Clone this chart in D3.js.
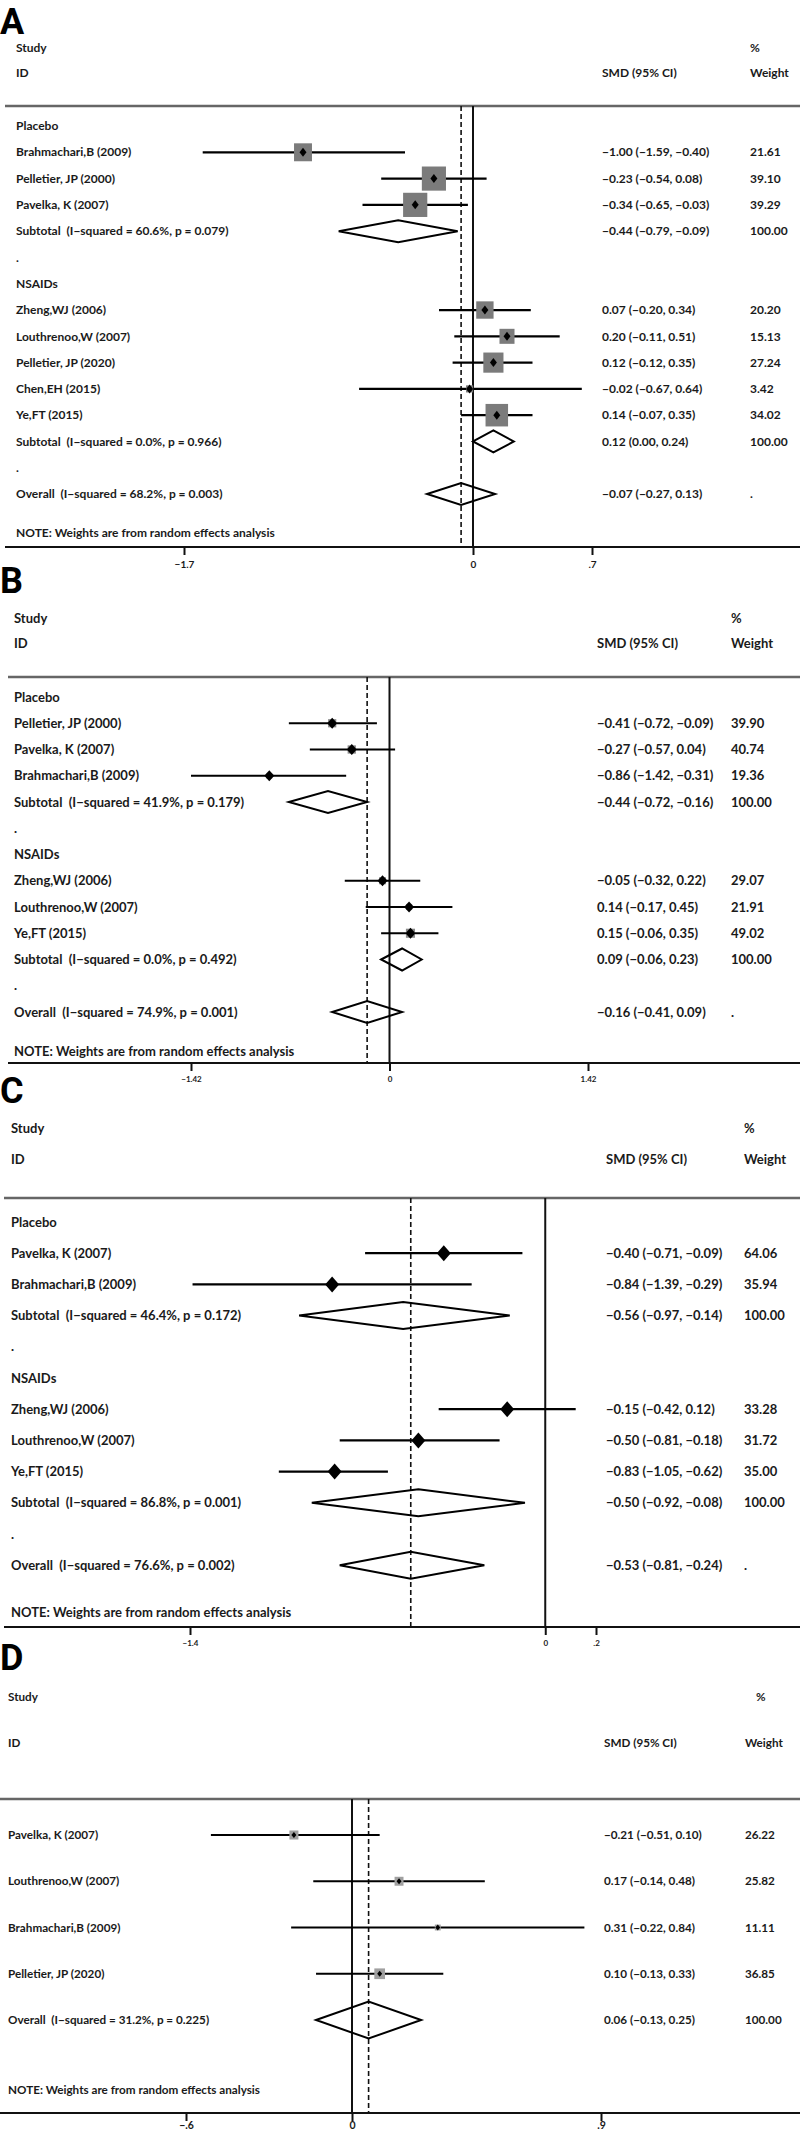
<!DOCTYPE html>
<html>
<head>
<meta charset="utf-8">
<script src="https://cdn.jsdelivr.net/npm/d3@7/dist/d3.min.js"></script>
<style>
  html, body { margin: 0; padding: 0; background: #fff; }
  svg text { font-family: "Lato", "Liberation Sans", sans-serif; font-weight: 700; fill: #1a1a1a; white-space: pre; }
</style>
</head>
<body>
<svg id="chart" width="800" height="2133"></svg>
<script>
// ---------------- DATA ----------------
// Panel A
const aLabels = ["Placebo","Brahmachari,B (2009)","Pelletier, JP (2000)","Pavelka, K (2007)","Subtotal  (I\u2212squared = 60.6%, p = 0.079)",".","NSAIDs","Zheng,WJ (2006)","Louthrenoo,W (2007)","Pelletier, JP (2020)","Chen,EH (2015)","Ye,FT (2015)","Subtotal  (I\u2212squared = 0.0%, p = 0.966)",".","Overall  (I\u2212squared = 68.2%, p = 0.003)"];
const aEst = [null,-1.00,-0.23,-0.34,-0.44,null,null,0.07,0.20,0.12,-0.02,0.14,0.12,null,-0.07];
const aLo  = [null,-1.59,-0.54,-0.65,-0.79,null,null,-0.20,-0.11,-0.12,-0.67,-0.07,0.00,null,-0.27];
const aHi  = [null,-0.40,0.08,-0.03,-0.09,null,null,0.34,0.51,0.35,0.64,0.35,0.24,null,0.13];
const aWt  = [null,21.61,39.10,39.29,100.00,null,null,20.20,15.13,27.24,3.42,34.02,100.00,null,null];
const aTicks = [-1.7,0,0.7];
const aTickLabels = ["\u22121.7","0",".7"];

// Panel B
const bLabels = ["Placebo","Pelletier, JP (2000)","Pavelka, K (2007)","Brahmachari,B (2009)","Subtotal  (I\u2212squared = 41.9%, p = 0.179)",".","NSAIDs","Zheng,WJ (2006)","Louthrenoo,W (2007)","Ye,FT (2015)","Subtotal  (I\u2212squared = 0.0%, p = 0.492)",".","Overall  (I\u2212squared = 74.9%, p = 0.001)"];
const bEst = [null,-0.41,-0.27,-0.86,-0.44,null,null,-0.05,0.14,0.15,0.09,null,-0.16];
const bLo  = [null,-0.72,-0.57,-1.42,-0.72,null,null,-0.32,-0.17,-0.06,-0.06,null,-0.41];
const bHi  = [null,-0.09,0.04,-0.31,-0.16,null,null,0.22,0.45,0.35,0.23,null,0.09];
const bWt  = [null,39.90,40.74,19.36,100.00,null,null,29.07,21.91,49.02,100.00,null,null];
const bTicks = [-1.42,0,1.42];
const bTickLabels = ["\u22121.42","0","1.42"];

// Panel C
const cLabels = ["Placebo","Pavelka, K (2007)","Brahmachari,B (2009)","Subtotal  (I\u2212squared = 46.4%, p = 0.172)",".","NSAIDs","Zheng,WJ (2006)","Louthrenoo,W (2007)","Ye,FT (2015)","Subtotal  (I\u2212squared = 86.8%, p = 0.001)",".","Overall  (I\u2212squared = 76.6%, p = 0.002)"];
const cEst = [null,-0.40,-0.84,-0.56,null,null,-0.15,-0.50,-0.83,-0.50,null,-0.53];
const cLo  = [null,-0.71,-1.39,-0.97,null,null,-0.42,-0.81,-1.05,-0.92,null,-0.81];
const cHi  = [null,-0.09,-0.29,-0.14,null,null,0.12,-0.18,-0.62,-0.08,null,-0.24];
const cWt  = [null,64.06,35.94,100.00,null,null,33.28,31.72,35.00,100.00,null,null];
const cTicks = [-1.4,0,0.2];
const cTickLabels = ["\u22121.4","0",".2"];

// Panel D
const dLabels = ["Pavelka, K (2007)","Louthrenoo,W (2007)","Brahmachari,B (2009)","Pelletier, JP (2020)","Overall  (I\u2212squared = 31.2%, p = 0.225)"];
const dEst = [-0.21,0.17,0.31,0.10,0.06];
const dLo  = [-0.51,-0.14,-0.22,-0.13,-0.13];
const dHi  = [0.10,0.48,0.84,0.33,0.25];
const dWt  = [26.22,25.82,11.11,36.85,100.00];
const dTicks = [-0.6,0,0.9];
const dTickLabels = ["\u2212.6","0",".9"];

const panelLetters = ["A","B","C","D"];
const headStudy = "Study", headID = "ID", headSMD = "SMD (95% CI)", headPct = "%", headWeight = "Weight";
const noteText = "NOTE: Weights are from random effects analysis";

// ---------------- LAYOUT ----------------
const layouts = [
  {letter:panelLetters[0], labels:aLabels, est:aEst, lo:aLo, hi:aHi, wt:aWt, ticks:aTicks, tickLabels:aTickLabels,
   letterY:34, studyY:48, idY:73, lineY:106, row0:126, rowStep:26.29, noteY:533, axisY:547, tickLabelY:564,
   xLabel:16, xSmd:602, xWt:750, xPct:750, fs:12, tickFs:10, range:[184,592], lineX0:5,
   box:"#7b7b7b", boxK:3.86, marker:[3.5,4.5], diamondH:11},
  {letter:panelLetters[1], labels:bLabels, est:bEst, lo:bLo, hi:bHi, wt:bWt, ticks:bTicks, tickLabels:bTickLabels,
   letterY:593, studyY:618, idY:643, lineY:677, row0:697, rowStep:26.25, noteY:1051, axisY:1063, tickLabelY:1079,
   xLabel:14, xSmd:597, xWt:731, xPct:731, fs:13, tickFs:8, range:[191,588], lineX0:8,
   box:"#8a8a8a", boxK:1.3, marker:[5,5.5], diamondH:11},
  {letter:panelLetters[2], labels:cLabels, est:cEst, lo:cLo, hi:cHi, wt:cWt, ticks:cTicks, tickLabels:cTickLabels,
   letterY:1103, studyY:1128, idY:1159, lineY:1198, row0:1222, rowStep:31.2, noteY:1612, axisY:1627, tickLabelY:1643,
   xLabel:11, xSmd:606, xWt:744, xPct:744, fs:13, tickFs:8, range:[190,596], lineX0:4,
   box:null, boxK:0, marker:[7,8], diamondH:13.5},
  {letter:panelLetters[3], labels:dLabels, est:dEst, lo:dLo, hi:dHi, wt:dWt, ticks:dTicks, tickLabels:dTickLabels,
   letterY:1670, studyY:1697, idY:1743, lineY:1799, row0:1835, rowStep:46.25, noteY:2090, axisY:2113, tickLabelY:2125,
   xLabel:8, xSmd:604, xWt:745, xPct:756, fs:11.7, tickFs:10.5, range:[186,601], lineX0:0,
   box:"#a0a0a0", boxK:1.76, marker:[2.5,3], diamondH:18.5}
];

const svg = d3.select("#chart");
const fmt = d3.format(".2f");

layouts.forEach(L => {
  const g = svg.append("g");
  const x = d3.scaleLinear().domain([L.ticks[0], L.ticks[L.ticks.length-1]]).range(L.range);
  const y = d3.scaleLinear().domain([0, 1]).range([L.row0, L.row0 + L.rowStep]);
  const overallEst = L.est[L.est.length-1];

  // panel letter
  g.append("text").attr("x", 0).attr("y", L.letterY)
    .style("font-family", "Roboto, 'Liberation Sans', sans-serif")
    .style("font-size", "36px").style("font-weight", 700).style("fill", "#000")
    .text(L.letter);

  // headers
  const hdr = (txt, xx, yy) => g.append("text").attr("x", xx).attr("y", yy).attr("dy", "0.35em")
    .style("font-size", L.fs + "px").text(txt);
  hdr(headStudy, L.xLabel, L.studyY);
  hdr(headID, L.xLabel, L.idY);
  hdr(headSMD, L.xSmd, L.idY);
  hdr(headPct, L.xPct, L.studyY);
  hdr(headWeight, L.xWt, L.idY);

  // header rule
  g.append("line").attr("x1", L.lineX0).attr("x2", 800).attr("y1", L.lineY).attr("y2", L.lineY)
    .attr("stroke", "#666").attr("stroke-width", 2.5);

  // reference lines
  g.append("line").attr("x1", x(0)).attr("x2", x(0)).attr("y1", L.lineY).attr("y2", L.axisY)
    .attr("stroke", "#111").attr("stroke-width", 2);
  g.append("line").attr("x1", x(overallEst)).attr("x2", x(overallEst)).attr("y1", L.lineY).attr("y2", L.axisY)
    .attr("stroke", "#111").attr("stroke-width", 1.6).attr("stroke-dasharray", "5,3");

  // rows
  L.labels.forEach((lab, i) => {
    const yy = y(i);
    g.append("text").attr("x", L.xLabel).attr("y", yy).attr("dy", "0.35em")
      .style("font-size", L.fs + "px").text(lab);
    const e = L.est[i];
    if (e === null) return;
    const isSum = lab.startsWith("Subtotal") || lab.startsWith("Overall");
    g.append("text").attr("x", L.xSmd).attr("y", yy).attr("dy", "0.35em")
      .style("font-size", L.fs + "px")
      .text(`${fmt(e)} (${fmt(L.lo[i])}, ${fmt(L.hi[i])})`);
    g.append("text").attr("x", L.xWt).attr("y", yy).attr("dy", "0.35em")
      .style("font-size", L.fs + "px")
      .text(L.wt[i] === null ? "." : fmt(L.wt[i]));
    if (isSum) {
      const h = L.diamondH;
      const pts = [[x(L.lo[i]), yy],[x(e), yy - h],[x(L.hi[i]), yy],[x(e), yy + h]];
      g.append("path").attr("d", d3.line()(pts) + "Z")
        .attr("fill", "none").attr("stroke", "#000").attr("stroke-width", 2).attr("stroke-linejoin", "miter");
    } else {
      g.append("line").attr("x1", x(L.lo[i])).attr("x2", x(L.hi[i])).attr("y1", yy).attr("y2", yy)
        .attr("stroke", "#000").attr("stroke-width", 2.2);
      if (L.box) {
        const s = L.boxK * Math.sqrt(L.wt[i]);
        g.append("rect").attr("x", x(e) - s/2).attr("y", yy - s/2).attr("width", s).attr("height", s)
          .attr("fill", L.box);
      }
      const [mw, mh] = L.marker;
      g.append("path").attr("d", d3.line()([[x(e)-mw, yy],[x(e), yy-mh],[x(e)+mw, yy],[x(e), yy+mh]]) + "Z")
        .attr("fill", "#000");
    }
  });

  // note
  g.append("text").attr("x", L.xLabel).attr("y", L.noteY).attr("dy", "0.35em")
    .style("font-size", L.fs + "px").text(noteText);

  // axis
  g.append("line").attr("x1", L.lineX0).attr("x2", 800).attr("y1", L.axisY).attr("y2", L.axisY)
    .attr("stroke", "#111").attr("stroke-width", 2.2);
  const ax = g.append("g").attr("transform", `translate(0,${L.axisY})`)
    .call(d3.axisBottom(x).tickValues(L.ticks).tickSize(8).tickSizeOuter(0)
      .tickFormat((d, i) => L.tickLabels[i]));
  ax.select(".domain").remove();
  ax.selectAll(".tick line").attr("stroke", "#111").attr("stroke-width", 2);
  ax.selectAll(".tick text").attr("y", L.tickLabelY - L.axisY).attr("dy", "0.35em")
    .style("font-size", L.tickFs + "px").style("font-family", "Lato, sans-serif").style("font-weight", 700)
    .attr("fill", "#1a1a1a");
});
</script>
</body>
</html>
